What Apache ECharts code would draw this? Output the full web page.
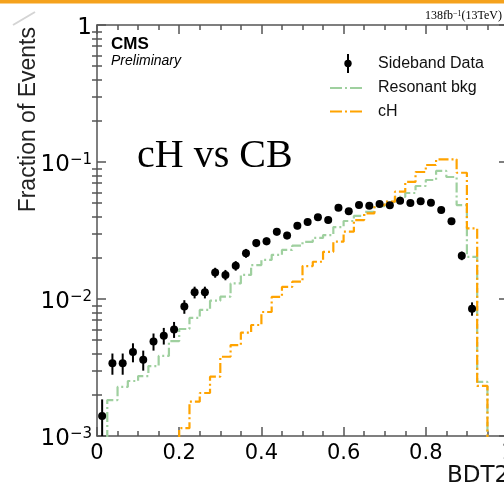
<!DOCTYPE html>
<html><head><meta charset="utf-8">
<script src="https://cdn.jsdelivr.net/npm/echarts@6.0.0/dist/echarts.min.js"></script>
<style>html,body{margin:0;padding:0;background:#fff}#c{width:504px;height:485px}</style>
</head><body><div id="c"></div>
<script>
// ---- data ----
const binWidth = 0.025;
const dataFirstBin = 0;
const dataValues = [0.0014, 0.0034, 0.0034, 0.0041, 0.0036, 0.0049, 0.0054, 0.0060, 0.0088, 0.0112,
  0.0112, 0.0156, 0.0150, 0.0175, 0.0216, 0.0256, 0.0264, 0.0310, 0.0291, 0.0343,
  0.0365, 0.0395, 0.0377, 0.0464, 0.0437, 0.0485, 0.0480, 0.0494, 0.0483, 0.0522,
  0.0502, 0.0517, 0.0505, 0.0446, 0.0369, 0.0207, 0.0085];
const dataErrors = [0.00045, 0.0006, 0.0006, 0.00065, 0.0006, 0.0007, 0.00075, 0.0008, 0.001, 0.0011,
  0.0011, 0.0013, 0.0013, 0.0014, 0.0016, 0.0017, 0.0017, 0.0019, 0.0018, 0.002,
  0.002, 0.0021, 0.002, 0.0023, 0.0022, 0.0023, 0.0023, 0.0023, 0.0023, 0.0024,
  0.0023, 0.0024, 0.0023, 0.0022, 0.002, 0.0015, 0.00095];
const resonantFirstBin = 1;
const resonantValues = [0.00183, 0.00228, 0.00252, 0.00274, 0.00324, 0.00384, 0.00493, 0.00604, 0.00727, 0.00832,
  0.00972, 0.0104, 0.0130, 0.0150, 0.0177, 0.0193, 0.0210, 0.0228, 0.0245, 0.0261,
  0.0279, 0.0293, 0.0335, 0.0371, 0.0404, 0.0432, 0.0477, 0.0511, 0.0556, 0.0594,
  0.0668, 0.0739, 0.0860, 0.0777, 0.0485, 0.0203, 0.00248];
const cHFirstBin = 8;
const cHValues = [0.00114, 0.00178, 0.00206, 0.00271, 0.00379, 0.00461, 0.00568, 0.00646, 0.00804, 0.01035,
  0.01224, 0.01337, 0.0174, 0.0187, 0.0221, 0.0262, 0.0310, 0.0377, 0.0422, 0.0485,
  0.0513, 0.0607, 0.0715, 0.0845, 0.0951, 0.1046, 0.1046, 0.0835, 0.0328, 0.00232];
const xMin = 0, xMax = 1, xInterval = 0.2;
const yMin = 0.001, yMax = 1;
const yMajorTicks = [0.001, 0.01, 0.1, 1];
const yMinorTicks = [0.002, 0.003, 0.004, 0.005, 0.006, 0.007, 0.008, 0.009,
  0.02, 0.03, 0.04, 0.05, 0.06, 0.07, 0.08, 0.09,
  0.2, 0.3, 0.4, 0.5, 0.6, 0.7, 0.8, 0.9];
const legendNames = ['Sideband Data', 'Resonant bkg', 'cH'];

// ---- styles ----
const GREEN = '#9fd09f', ORANGE = '#ffa300', AXIS = '#555';
const DASH = [10, 3, 2, 3];
const FLOOR = 1e-5;

function histPoints(first, vals) {
  const pts = [[first * binWidth, FLOOR]];
  vals.forEach((v, i) => pts.push([(first + i) * binWidth, v]));
  pts.push([(first + vals.length) * binWidth, FLOOR]);
  return pts;
}
const logMin = Math.log10(yMin), logMax = Math.log10(yMax);

const chart = echarts.init(document.getElementById('c'), null, {renderer: 'canvas'});
const axisLineStyle = {color: AXIS, width: 1.5};
const grid = {left: 97, top: 25, width: 411, height: 411, containLabel: false, outerBoundsMode: 'none'};

function xAx(pos, labels) {
  return {
    type: 'value', position: pos, min: xMin, max: xMax, interval: xInterval,
    axisLine: {show: true, onZero: false, lineStyle: axisLineStyle},
    axisTick: {show: true, inside: true, length: 9, lineStyle: axisLineStyle},
    minorTick: {show: true, splitNumber: 4, length: 5, lineStyle: axisLineStyle},
    splitLine: {show: false}, minorSplitLine: {show: false},
    axisLabel: {show: labels, margin: 7, color: '#000', fontFamily: 'DejaVu Sans', fontSize: 21,
      formatter: v => (v === 0 ? '0' : (v === 1 ? '1' : v.toFixed(1)))}
  };
}
function yLogAx(pos, labels) {
  return {
    type: 'log', logBase: 10, position: pos, min: yMin, max: yMax,
    axisLine: {show: true, onZero: false, lineStyle: axisLineStyle},
    axisTick: {show: true, inside: true, length: 9, lineStyle: axisLineStyle},
    splitLine: {show: false}, minorTick: {show: false},
    axisLabel: {show: labels, margin: 5, color: '#000', padding: [6, 0, 0, 0],
      formatter: v => { const e = Math.round(Math.log10(v)); return e === 0 ? '{b|1}' : '{b|10}{s|\u2212' + (-e) + '}'; },
      rich: {
        b: {fontFamily: 'DejaVu Sans', fontSize: 23, lineHeight: 24, color: '#000'},
        s: {fontFamily: 'DejaVu Sans', fontSize: 15, lineHeight: 24, color: '#000', verticalAlign: 'top'}
      }}
  };
}
function yMinorAx(pos) {
  return {
    type: 'value', position: pos, min: logMin, max: logMax,
    axisLine: {show: false}, splitLine: {show: false}, axisLabel: {show: false},
    axisTick: {show: true, inside: true, length: 5, lineStyle: axisLineStyle,
      customValues: yMinorTicks.map(v => Math.log10(v))}
  };
}

const option = {
  animation: false,
  backgroundColor: '#fff',
  grid: grid,
  xAxis: [xAx('bottom', true), xAx('top', false)],
  yAxis: [yLogAx('left', true), yMinorAx('left'), yLogAx('right', false), yMinorAx('right')],
  series: [
    {
      name: legendNames[1], type: 'line', xAxisIndex: 0, yAxisIndex: 0, step: 'end', symbol: 'none',
      clip: true, data: histPoints(resonantFirstBin, resonantValues),
      lineStyle: {color: GREEN, width: 2.2, type: DASH}, z: 3
    },
    {
      name: legendNames[2], type: 'line', xAxisIndex: 0, yAxisIndex: 0, step: 'end', symbol: 'none',
      clip: true, data: histPoints(cHFirstBin, cHValues),
      lineStyle: {color: ORANGE, width: 2.2, type: DASH}, z: 4
    },
    {
      name: legendNames[0], type: 'custom', xAxisIndex: 0, yAxisIndex: 0, z: 10,
      data: dataValues.map((v, i) => [(dataFirstBin + i + 0.5) * binWidth, v, dataErrors[i]]),
      encode: {x: 0, y: 1},
      renderItem: function (params, api) {
        const x = api.value(0), y = api.value(1), e = api.value(2);
        const p = api.coord([x, y]);
        const lo = api.coord([x, Math.max(y - e, yMin)]);
        const hi = api.coord([x, y + e]);
        return {type: 'group', children: [
          {type: 'line', shape: {x1: p[0], y1: lo[1], x2: p[0], y2: hi[1]}, style: {stroke: '#000', lineWidth: 2}},
          {type: 'circle', shape: {cx: p[0], cy: p[1], r: 4}, style: {fill: '#000'}}
        ]};
      }
    }
  ],
  graphic: [
    {type: 'rect', left: 0, top: 0, shape: {width: 504, height: 3.5}, style: {fill: '#f5a21d'}, silent: true},
    {type: 'line', shape: {x1: 13, y1: 25, x2: 35, y2: 12}, style: {stroke: '#d4d4d4', lineWidth: 2}},
    {type: 'text', x: 28.5, y: 27, rotation: Math.PI / 2,
      style: {text: 'Fraction of Events', font: '23px "Liberation Sans"', fill: '#222', align: 'right', verticalAlign: 'middle'}},
    {type: 'text', x: 447, y: 476,
      style: {text: 'BDT2', font: '23px "DejaVu Sans"', fill: '#111', align: 'left', verticalAlign: 'middle'}},
    {type: 'text', x: 111, y: 44,
      style: {text: 'CMS', font: 'bold 17px "Liberation Sans"', fill: '#000', align: 'left', verticalAlign: 'middle'}},
    {type: 'text', x: 111, y: 61.5,
      style: {text: 'Preliminary', font: 'italic 14px "Liberation Sans"', fill: '#000', align: 'left', verticalAlign: 'middle'}},
    {type: 'text', x: 137, y: 156,
      style: {text: 'cH vs CB', font: '40px "Liberation Serif"', fill: '#000', align: 'left', verticalAlign: 'middle'}},
    {type: 'text', x: 425, y: 16,
      style: {text: '{a|138fb}{s|\u22121}{a|(13TeV)}', align: 'left', verticalAlign: 'middle',
        rich: {a: {font: '12px "Liberation Serif"', fill: '#000'},
               s: {font: '8px "Liberation Serif"', fill: '#000', verticalAlign: 'top'}}}},
    // legend
    {type: 'line', shape: {x1: 348, y1: 54, x2: 348, y2: 73}, style: {stroke: '#000', lineWidth: 2}},
    {type: 'circle', shape: {cx: 348, cy: 63.5, r: 3.7}, style: {fill: '#000'}},
    {type: 'text', x: 378, y: 63.5, style: {text: legendNames[0], font: '16px "Liberation Sans"', fill: '#111', verticalAlign: 'middle'}},
    {type: 'line', shape: {x1: 330, y1: 88, x2: 362, y2: 88}, style: {stroke: GREEN, lineWidth: 2, lineDash: [12, 3, 2, 3]}},
    {type: 'text', x: 378, y: 88, style: {text: legendNames[1], font: '16px "Liberation Sans"', fill: '#111', verticalAlign: 'middle'}},
    {type: 'line', shape: {x1: 330, y1: 111.5, x2: 362, y2: 111.5}, style: {stroke: ORANGE, lineWidth: 2, lineDash: [12, 3, 2, 3]}},
    {type: 'text', x: 378, y: 111.5, style: {text: legendNames[2], font: '16px "Liberation Sans"', fill: '#111', verticalAlign: 'middle'}}
  ]
};
chart.setOption(option);
</script></body></html>
